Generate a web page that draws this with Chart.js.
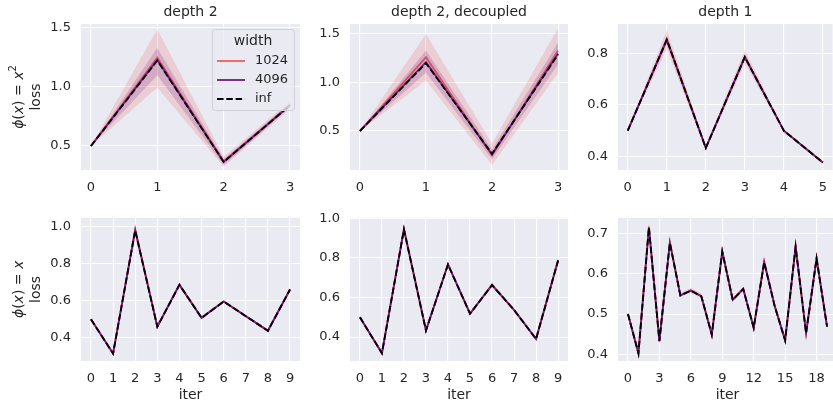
<!DOCTYPE html>
<html>
<head>
<meta charset="utf-8">
<script src="https://cdn.jsdelivr.net/npm/chart.js@4.4.0/dist/chart.umd.min.js"></script>
<style>
html, body { margin: 0; padding: 0; background: #fff; width: 833px; height: 404px; overflow: hidden; }
canvas { position: absolute; }
</style>
</head>
<body>
<canvas id="c1" width="305" height="200" style="left:0;top:0"></canvas>
<canvas id="c2" width="268" height="200" style="left:305px;top:0"></canvas>
<canvas id="c3" width="264" height="200" style="left:573px;top:0"></canvas>
<canvas id="c4" width="305" height="204" style="left:0;top:200px"></canvas>
<canvas id="c5" width="268" height="204" style="left:305px;top:200px"></canvas>
<canvas id="c6" width="264" height="204" style="left:573px;top:200px"></canvas>
<script>
// ---- data ----
var seriesNames = ["1024", "4096", "inf"];

// row 1: phi(x) = x^2
var itersD2 = [0, 1, 2, 3];
var sqD2Inf    = [0.50, 1.225, 0.365, 0.845];
var sqD2W1024  = [0.50, 1.250, 0.370, 0.850];
var sqD2Lo1024 = [0.50, 0.995, 0.325, 0.815];
var sqD2Hi1024 = [0.50, 1.490, 0.410, 0.880];
var sqD2W4096  = [0.50, 1.230, 0.365, 0.845];
var sqD2Lo4096 = [0.50, 1.100, 0.340, 0.828];
var sqD2Hi4096 = [0.50, 1.330, 0.390, 0.862];

var sqDecInf    = [0.50, 1.200, 0.265, 1.290];
var sqDecW1024  = [0.50, 1.260, 0.250, 1.330];
var sqDecLo1024 = [0.50, 1.020, 0.150, 1.100];
var sqDecHi1024 = [0.50, 1.500, 0.370, 1.560];
var sqDecW4096  = [0.50, 1.210, 0.260, 1.300];
var sqDecLo4096 = [0.50, 1.100, 0.210, 1.190];
var sqDecHi4096 = [0.50, 1.330, 0.310, 1.410];

var itersD1 = [0, 1, 2, 3, 4, 5];
var sqD1Inf    = [0.50, 0.852, 0.433, 0.785, 0.500, 0.377];
var sqD1W1024  = [0.50, 0.855, 0.434, 0.787, 0.500, 0.377];
var sqD1Lo1024 = [0.50, 0.815, 0.425, 0.760, 0.495, 0.372];
var sqD1Hi1024 = [0.50, 0.890, 0.443, 0.812, 0.505, 0.382];
var sqD1W4096  = [0.50, 0.852, 0.433, 0.785, 0.500, 0.377];
var sqD1Lo4096 = [0.50, 0.835, 0.428, 0.773, 0.498, 0.375];
var sqD1Hi4096 = [0.50, 0.868, 0.438, 0.797, 0.502, 0.379];

// row 2: phi(x) = x
var iters10 = [0, 1, 2, 3, 4, 5, 6, 7, 8, 9];
var linD2Inf    = [0.50, 0.315, 0.980, 0.460, 0.686, 0.508, 0.596, 0.517, 0.438, 0.661];
var linD2W1024  = [0.50, 0.316, 0.985, 0.461, 0.687, 0.509, 0.597, 0.518, 0.439, 0.662];
var linD2Lo1024 = [0.50, 0.306, 0.955, 0.452, 0.677, 0.502, 0.589, 0.511, 0.432, 0.652];
var linD2Hi1024 = [0.50, 0.326, 1.015, 0.470, 0.697, 0.516, 0.605, 0.525, 0.446, 0.672];
var linD2W4096  = [0.50, 0.315, 0.980, 0.460, 0.686, 0.508, 0.596, 0.517, 0.438, 0.661];
var linD2Lo4096 = [0.50, 0.311, 0.970, 0.456, 0.682, 0.505, 0.593, 0.514, 0.435, 0.657];
var linD2Hi4096 = [0.50, 0.319, 0.990, 0.464, 0.690, 0.511, 0.599, 0.520, 0.441, 0.665];

var linDecInf    = [0.50, 0.318, 0.944, 0.433, 0.767, 0.518, 0.663, 0.537, 0.390, 0.787];
var linDecW1024  = [0.50, 0.319, 0.948, 0.434, 0.768, 0.519, 0.664, 0.538, 0.391, 0.789];
var linDecLo1024 = [0.50, 0.309, 0.920, 0.425, 0.757, 0.511, 0.652, 0.530, 0.383, 0.775];
var linDecHi1024 = [0.50, 0.329, 0.975, 0.443, 0.779, 0.527, 0.676, 0.546, 0.399, 0.803];
var linDecW4096  = [0.50, 0.318, 0.944, 0.433, 0.767, 0.518, 0.663, 0.537, 0.390, 0.787];
var linDecLo4096 = [0.50, 0.314, 0.935, 0.429, 0.762, 0.515, 0.658, 0.533, 0.387, 0.781];
var linDecHi4096 = [0.50, 0.322, 0.953, 0.437, 0.772, 0.521, 0.668, 0.541, 0.393, 0.793];

var iters20 = [0, 1, 2, 3, 4, 5, 6, 7, 8, 9, 10, 11, 12, 13, 14, 15, 16, 17, 18, 19];
var linD1Inf    = [0.500, 0.403, 0.714, 0.433, 0.676, 0.546, 0.558, 0.544, 0.449, 0.654, 0.535, 0.562, 0.466, 0.628, 0.520, 0.435, 0.666, 0.453, 0.637, 0.469];
var linD1W1024  = [0.500, 0.404, 0.716, 0.434, 0.678, 0.547, 0.559, 0.545, 0.450, 0.656, 0.536, 0.563, 0.467, 0.630, 0.521, 0.436, 0.668, 0.454, 0.639, 0.470];
var linD1Lo1024 = [0.500, 0.398, 0.706, 0.428, 0.669, 0.542, 0.553, 0.539, 0.444, 0.647, 0.531, 0.557, 0.461, 0.621, 0.515, 0.430, 0.659, 0.448, 0.630, 0.464];
var linD1Hi1024 = [0.500, 0.410, 0.726, 0.440, 0.687, 0.552, 0.565, 0.551, 0.456, 0.665, 0.541, 0.569, 0.473, 0.639, 0.527, 0.442, 0.677, 0.460, 0.648, 0.476];
var linD1W4096  = [0.500, 0.403, 0.714, 0.433, 0.676, 0.546, 0.558, 0.544, 0.449, 0.654, 0.535, 0.562, 0.466, 0.628, 0.520, 0.435, 0.666, 0.453, 0.637, 0.469];
var linD1Lo4096 = [0.500, 0.400, 0.710, 0.430, 0.672, 0.544, 0.555, 0.541, 0.446, 0.650, 0.533, 0.559, 0.463, 0.624, 0.517, 0.432, 0.662, 0.450, 0.633, 0.466];
var linD1Hi4096 = [0.500, 0.406, 0.718, 0.436, 0.680, 0.548, 0.561, 0.547, 0.452, 0.658, 0.537, 0.565, 0.469, 0.632, 0.523, 0.438, 0.670, 0.456, 0.641, 0.472];

// tick labels
var yTicksSqD2 = [0.5, 1.0, 1.5];
var yTicksSqD1 = [0.4, 0.6, 0.8];
var yTicksLin = [0.4, 0.6, 0.8, 1.0];
var yTicksLinD1 = [0.4, 0.5, 0.6, 0.7];
var xTicksD1Lin = [0, 3, 6, 9, 12, 15, 18];

// ---- style ----
var TEXT = "#262626";
var FONT = "'DejaVu Sans', sans-serif";
var RED = "#f1605d", PURPLE = "#721f81";
var RED_BAND = "rgba(241, 96, 93, 0.2)", PURPLE_BAND = "rgba(114, 31, 129, 0.2)";
var LW = 1.85;

// y axis labels in mathtext style: i = italic, sup = superscript
var yLabels = {
    sq: [[{t: "ϕ", i: 1}, {t: "("}, {t: "x", i: 1}, {t: ") = "}, {t: "x", i: 1}, {t: "2", sup: 1}], [{t: "loss"}]],
    lin: [[{t: "ϕ", i: 1}, {t: "("}, {t: "x", i: 1}, {t: ") = "}, {t: "x", i: 1}], [{t: "loss"}]]
};

function pts(xs, ys) {
    return xs.map(function (x, i) { return {x: x, y: ys[i]}; });
}

// chart.js paints the last dataset first, so the top-most goes first here
function buildDatasets(xs, s) {
    return [
        {label: seriesNames[2], data: pts(xs, s[6]), borderColor: "#000", borderWidth: LW, borderDash: [6.5, 2.8], pointRadius: 0, fill: false},
        {label: "", data: pts(xs, s[4]), borderWidth: 0, pointRadius: 0, fill: "+1", backgroundColor: PURPLE_BAND},
        {label: "", data: pts(xs, s[5]), borderWidth: 0, pointRadius: 0, fill: false},
        {label: seriesNames[1], data: pts(xs, s[3]), borderColor: PURPLE, borderWidth: LW, pointRadius: 0, fill: false},
        {label: "", data: pts(xs, s[1]), borderWidth: 0, pointRadius: 0, fill: "+1", backgroundColor: RED_BAND},
        {label: "", data: pts(xs, s[2]), borderWidth: 0, pointRadius: 0, fill: false},
        {label: seriesNames[0], data: pts(xs, s[0]), borderColor: RED, borderWidth: LW, pointRadius: 0, fill: false}
    ];
}

var plotBackground = {
    id: "plotBackground",
    beforeDraw: function (chart) {
        var a = chart.chartArea, ctx = chart.ctx;
        ctx.save();
        ctx.fillStyle = "#eaeaf2";
        ctx.fillRect(a.left, a.top, a.right - a.left, a.bottom - a.top);
        ctx.restore();
    }
};

var panelTitle = {
    id: "panelTitle",
    afterDraw: function (chart, args, opts) {
        if (!opts.text) return;
        var a = chart.chartArea, ctx = chart.ctx;
        ctx.save();
        ctx.font = "14px " + FONT;
        ctx.fillStyle = TEXT;
        ctx.textAlign = "center";
        ctx.textBaseline = "middle";
        ctx.fillText(opts.text, (a.left + a.right) / 2, a.top - 12);
        ctx.restore();
    }
};

function segFont(s) {
    return (s.i ? "oblique " : "") + (s.sup ? "10px " : "14px ") + FONT;
}

var yLabel = {
    id: "yLabel",
    afterDraw: function (chart, args, opts) {
        if (!opts.which) return;
        var lines = yLabels[opts.which];
        var a = chart.chartArea, ctx = chart.ctx;
        var cy = (a.top + a.bottom) / 2;
        var offsets = [62, 45];
        ctx.save();
        ctx.fillStyle = TEXT;
        ctx.textBaseline = "middle";
        ctx.textAlign = "left";
        lines.forEach(function (segs, li) {
            var widths = segs.map(function (s) { ctx.font = segFont(s); return ctx.measureText(s.t).width; });
            var total = widths.reduce(function (p, w) { return p + w; }, 0);
            ctx.save();
            ctx.translate(a.left - offsets[li], cy);
            ctx.rotate(-Math.PI / 2);
            var x = -total / 2;
            segs.forEach(function (s, k) {
                ctx.font = segFont(s);
                ctx.fillText(s.t, x, s.sup ? -5.5 : 0);
                x += widths[k];
            });
            ctx.restore();
        });
        ctx.restore();
    }
};

var widthLegend = {
    id: "widthLegend",
    afterDraw: function (chart, args, opts) {
        if (!opts.show) return;
        var a = chart.chartArea, ctx = chart.ctx;
        var w = 82, h = 81;
        var left = a.right - 6 - w, top = a.top + 5;
        ctx.save();
        ctx.beginPath();
        ctx.roundRect(left + 0.5, top + 0.5, w, h, 3);
        ctx.fillStyle = "rgba(234, 234, 242, 0.8)";
        ctx.fill();
        ctx.strokeStyle = "#d0d0d6";
        ctx.lineWidth = 1;
        ctx.stroke();
        ctx.fillStyle = TEXT;
        ctx.textBaseline = "middle";
        ctx.textAlign = "center";
        ctx.font = "14px " + FONT;
        ctx.fillText("width", left + w / 2, top + 12);
        ctx.font = "13px " + FONT;
        ctx.textAlign = "left";
        seriesNames.forEach(function (name, i) {
            var d = chart.data.datasets.filter(function (ds) { return ds.label === name; })[0];
            var y = top + 32 + i * 19;
            ctx.beginPath();
            ctx.strokeStyle = d.borderColor;
            ctx.lineWidth = LW;
            ctx.setLineDash(d.borderDash || []);
            ctx.moveTo(left + 5, y);
            ctx.lineTo(left + 33, y);
            ctx.stroke();
            ctx.setLineDash([]);
            ctx.fillText(name, left + 43, y);
        });
        ctx.restore();
    }
};

function buildChart(p) {
    var lastX = p.xs[p.xs.length - 1];
    return new Chart(document.getElementById(p.id), {
        type: "line",
        data: {datasets: buildDatasets(p.xs, p.series)},
        plugins: [plotBackground, panelTitle, yLabel, widthLegend],
        options: {
            responsive: false,
            animation: false,
            layout: {padding: {top: p.padTop, right: p.padRight, left: 0, bottom: 0}},
            elements: {line: {tension: 0}},
            scales: {
                x: {
                    type: "linear",
                    min: -0.05 * lastX,
                    max: 1.05 * lastX,
                    afterBuildTicks: function (s) { s.ticks = p.xTicks.map(function (v) { return {value: v}; }); },
                    afterFit: function (s) { s.height = p.xH; },
                    grid: {color: "#ffffff", lineWidth: 1.1, drawTicks: false},
                    border: {display: false},
                    ticks: {padding: 10, color: TEXT, font: {family: FONT, size: 13}, maxRotation: 0, autoSkip: false,
                        callback: function (v) { return String(v); }},
                    title: {display: p.xTitle, text: "iter", color: TEXT, font: {family: FONT, size: 14}, padding: {top: 0, bottom: 0}}
                },
                y: {
                    min: p.yMin,
                    max: p.yMax,
                    afterBuildTicks: function (s) { s.ticks = p.yTicks.map(function (v) { return {value: v}; }); },
                    afterFit: function (s) { s.width = p.yW; },
                    grid: {color: "#ffffff", lineWidth: 1.1, drawTicks: false},
                    border: {display: false},
                    ticks: {padding: 10, color: TEXT, font: {family: FONT, size: 13},
                        callback: function (v) { return v.toFixed(1); }}
                }
            },
            plugins: {
                legend: {display: false},
                tooltip: {enabled: false},
                panelTitle: {text: p.title},
                yLabel: {which: p.yLabel},
                widthLegend: {show: p.legend}
            }
        }
    });
}

var rowTop = {padTop: 24, xH: 30, xTitle: false};
var rowBottom = {padTop: 15, xH: 43, xTitle: true};

var panels = [
    {id: "c1", row: rowTop, title: "depth 2", xs: itersD2, xTicks: itersD2, yTicks: yTicksSqD2, yMin: 0.297, yMax: 1.534, yW: 81, padRight: 5, yLabel: "sq", legend: true,
        series: [sqD2W1024, sqD2Lo1024, sqD2Hi1024, sqD2W4096, sqD2Lo4096, sqD2Hi4096, sqD2Inf]},
    {id: "c2", row: rowTop, title: "depth 2, decoupled", xs: itersD2, xTicks: itersD2, yTicks: yTicksSqD2, yMin: 0.098, yMax: 1.603, yW: 45, padRight: 5,
        series: [sqDecW1024, sqDecLo1024, sqDecHi1024, sqDecW4096, sqDecLo4096, sqDecHi4096, sqDecInf]},
    {id: "c3", row: rowTop, title: "depth 1", xs: itersD1, xTicks: itersD1, yTicks: yTicksSqD1, yMin: 0.348, yMax: 0.913, yW: 45, padRight: 0,
        series: [sqD1W1024, sqD1Lo1024, sqD1Hi1024, sqD1W4096, sqD1Lo4096, sqD1Hi4096, sqD1Inf]},
    {id: "c4", row: rowBottom, xs: iters10, xTicks: iters10, yTicks: yTicksLin, yMin: 0.275, yMax: 1.048, yW: 81, padRight: 5, yLabel: "lin",
        series: [linD2W1024, linD2Lo1024, linD2Hi1024, linD2W4096, linD2Lo4096, linD2Hi4096, linD2Inf]},
    {id: "c5", row: rowBottom, xs: iters10, xTicks: iters10, yTicks: yTicksLin, yMin: 0.279, yMax: 1.003, yW: 45, padRight: 5,
        series: [linDecW1024, linDecLo1024, linDecHi1024, linDecW4096, linDecLo4096, linDecHi4096, linDecInf]},
    {id: "c6", row: rowBottom, xs: iters20, xTicks: xTicksD1Lin, yTicks: yTicksLinD1, yMin: 0.384, yMax: 0.738, yW: 45, padRight: 0,
        series: [linD1W1024, linD1Lo1024, linD1Hi1024, linD1W4096, linD1Lo4096, linD1Hi4096, linD1Inf]}
];

panels.forEach(function (p) {
    p.padTop = p.row.padTop;
    p.xH = p.row.xH;
    p.xTitle = p.row.xTitle;
    buildChart(p);
});
</script>
</body>
</html>
